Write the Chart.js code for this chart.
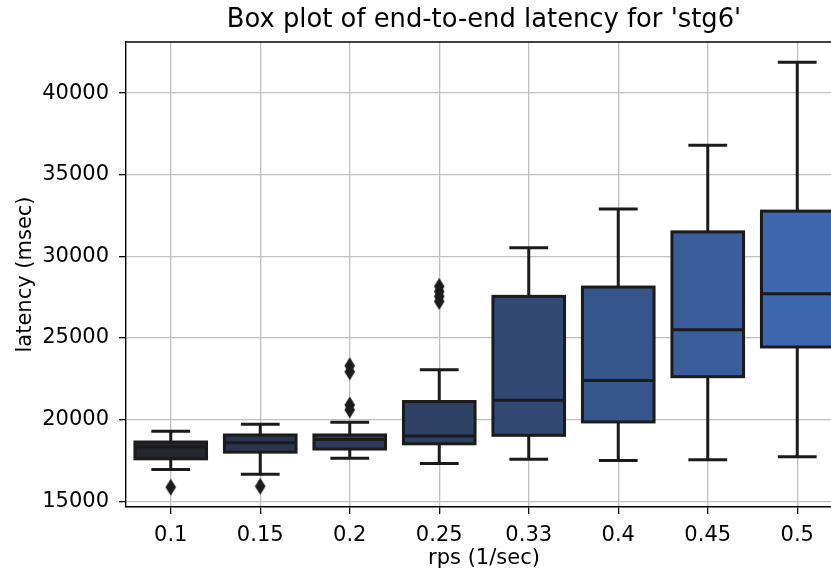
<!DOCTYPE html>
<html>
<head>
<meta charset="utf-8">
<script src="https://cdn.jsdelivr.net/npm/chart.js@4.4.1/dist/chart.umd.min.js"></script>
<style>
  html, body { margin: 0; padding: 0; background: #fff; overflow: hidden; width: 831px; height: 573px; }
  #wrap { width: 849px; height: 573px; }
</style>
</head>
<body>
<div id="wrap"><canvas id="box-chart" width="849" height="573" style="width:849px;height:573px"></canvas></div>
<script>
// rps levels on the x axis
const categories = ['0.1', '0.15', '0.2', '0.25', '0.33', '0.4', '0.45', '0.5'];

// box statistics per rps (msec)
const q1 = [17600, 18010, 18200, 18520, 19040, 19860, 22630, 24450];
const median = [18340, 18590, 18790, 19000, 21190, 22400, 25500, 27710];
const q3 = [18630, 19060, 19060, 21110, 27550, 28120, 31500, 32770];
const whiskerLow = [16950, 16660, 17630, 17320, 17580, 17500, 17540, 17720];
const whiskerHigh = [19290, 19720, 19840, 23060, 30520, 32900, 36810, 41880];

// fliers
const outlierRps = ['0.1', '0.15', '0.2', '0.2', '0.2', '0.2', '0.25', '0.25', '0.25', '0.25'];
const outlierLatency = [15860, 15920, 23300, 22930, 20900, 20600, 28160, 27850, 27550, 27240];

const yTicks = [15000, 20000, 25000, 30000, 35000, 40000];

const boxColors = ['#25272e', '#2b3550', '#2d3b5c', '#2e4266', '#324a73', '#36558a', '#3a5d9c', '#3d67ae'];
const lineColor = '#1b1b1b';
const font = 'DejaVu Sans';

// thin diamond marker like matplotlib 'd'
const diamond = document.createElement('canvas');
diamond.width = 12;
diamond.height = 18;
const dctx = diamond.getContext('2d');
dctx.fillStyle = lineColor;
dctx.beginPath();
dctx.moveTo(6, 0.5);
dctx.lineTo(11.3, 9);
dctx.lineTo(6, 17.5);
dctx.lineTo(0.7, 9);
dctx.closePath();
dctx.fill();

// whiskers, caps, box edges and medians
const boxLines = {
  id: 'boxLines',
  afterDatasetsDraw(chart) {
    const ctx = chart.ctx;
    const y = chart.scales.y;
    const meta = chart.getDatasetMeta(0);
    ctx.save();
    ctx.strokeStyle = lineColor;
    ctx.lineWidth = 3;
    meta.data.forEach((bar, i) => {
      const cx = bar.x;
      const half = bar.width / 2;
      const cap = half / 2;
      const top = y.getPixelForValue(q3[i]);
      const bot = y.getPixelForValue(q1[i]);
      const hi = y.getPixelForValue(whiskerHigh[i]);
      const lo = y.getPixelForValue(whiskerLow[i]);
      const med = y.getPixelForValue(median[i]);

      ctx.lineCap = 'butt';
      ctx.beginPath();
      ctx.moveTo(cx, top); ctx.lineTo(cx, hi);
      ctx.moveTo(cx, bot); ctx.lineTo(cx, lo);
      ctx.stroke();

      ctx.lineCap = 'square';
      ctx.beginPath();
      ctx.moveTo(cx - cap, hi); ctx.lineTo(cx + cap, hi);
      ctx.moveTo(cx - cap, lo); ctx.lineTo(cx + cap, lo);
      ctx.stroke();

      ctx.lineCap = 'butt';
      ctx.strokeRect(cx - half, top, half * 2, bot - top);
      ctx.beginPath();
      ctx.moveTo(cx - half, med); ctx.lineTo(cx + half, med);
      ctx.stroke();
    });
    ctx.restore();
  },
  afterDraw(chart) {
    // top spine
    const { ctx, chartArea } = chart;
    ctx.save();
    ctx.strokeStyle = '#000';
    ctx.lineWidth = 1.4;
    ctx.beginPath();
    ctx.moveTo(chartArea.left, chartArea.top);
    ctx.lineTo(chartArea.right, chartArea.top);
    ctx.stroke();
    ctx.restore();
  }
};

const tickFont = { family: font, size: 21 };

const chart = new Chart(document.getElementById('box-chart'), {
  type: 'bar',
  data: {
    labels: categories,
    datasets: [
      {
        label: 'box',
        data: categories.map((c, i) => [q1[i], q3[i]]),
        backgroundColor: boxColors,
        borderWidth: 0,
        categoryPercentage: 0.8,
        barPercentage: 1.0
      },
      {
        type: 'line',
        label: 'fliers',
        data: outlierRps.map((c, i) => ({ x: c, y: outlierLatency[i] })),
        showLine: false,
        pointStyle: diamond,
        pointRadius: 6,
        pointHoverRadius: 6
      }
    ]
  },
  options: {
    responsive: false,
    animation: false,
    devicePixelRatio: 1,
    layout: { padding: { left: 0, right: 0, top: 0, bottom: 0 } },
    plugins: {
      legend: { display: false },
      tooltip: { enabled: false },
      title: {
        display: true,
        fullSize: false,
        text: "Box plot of end-to-end latency for 'stg6'",
        color: '#000',
        font: { family: font, size: 25.8, weight: 'normal' },
        padding: { top: 5, bottom: 6 }
      }
    },
    scales: {
      x: {
        type: 'category',
        offset: true,
        grid: { offset: false, color: '#c0c0c0', lineWidth: 1.3, tickColor: '#000', tickLength: 7, tickWidth: 1.3 },
        border: { color: '#000', width: 1.4 },
        ticks: { color: '#000', font: tickFont, padding: 9, maxRotation: 0 },
        title: { display: true, text: 'rps (1/sec)', color: '#000', font: tickFont, padding: { top: 0, bottom: 2 } },
        afterFit(s) { s.height = 66; }
      },
      y: {
        min: 14650,
        max: 43130,
        grid: { color: '#c0c0c0', lineWidth: 1.3, tickColor: '#000', tickLength: 7, tickWidth: 1.3 },
        border: { color: '#000', width: 1.4 },
        ticks: { color: '#000', font: tickFont, padding: 10, callback: v => String(v) },
        afterBuildTicks(s) { s.ticks = yTicks.map(v => ({ value: v })); },
        title: { display: true, text: 'latency (msec)', color: '#000', font: tickFont, padding: { top: 13, bottom: 0 } },
        afterFit(s) { s.width = 126; }
      }
    }
  },
  plugins: [boxLines]
});
</script>
</body>
</html>
